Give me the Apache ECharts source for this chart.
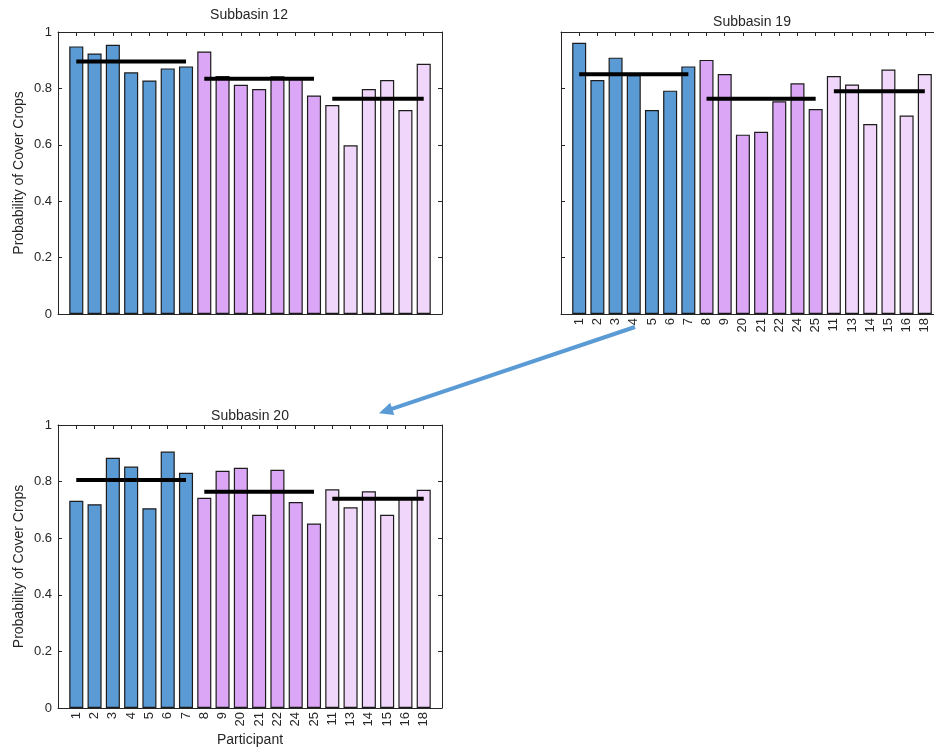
<!DOCTYPE html>
<html><head><meta charset="utf-8">
<script src="https://cdn.jsdelivr.net/npm/echarts@6/dist/echarts.min.js"></script>
<style>html,body{margin:0;padding:0;background:#fff}#c{width:934px;height:750px}</style>
</head><body><div id="c"></div>
<script>
// ---- data ----
const participants = ['1','2','3','4','5','6','7','8','9','20','21','22','24','25','11','13','14','15','16','18'];
const groupOf =      ['A','A','A','A','A','A','A','B','B','B','B','B','B','B','C','C','C','C','C','C'];
const groupNames = ['A','B','C'];
const sub12 = [0.949,0.924,0.955,0.857,0.828,0.871,0.878, 0.931,0.844,0.813,0.798,0.843,0.835,0.775, 0.741,0.598,0.798,0.830,0.723,0.887];
const sub19 = [0.962,0.830,0.909,0.847,0.723,0.792,0.878, 0.901,0.851,0.636,0.646,0.754,0.818,0.727, 0.844,0.814,0.674,0.867,0.704,0.851];
const sub20 = [0.732,0.720,0.884,0.853,0.706,0.906,0.831, 0.743,0.838,0.849,0.683,0.842,0.728,0.652, 0.773,0.709,0.766,0.683,0.739,0.771];
const mean12 = [0.895, 0.834, 0.763];
const mean19 = [0.850, 0.763, 0.790];
const mean20 = [0.806, 0.764, 0.739];
const panelTitles = ['Subbasin 12', 'Subbasin 19', 'Subbasin 20'];
const yTickValues = [0, 0.2, 0.4, 0.6, 0.8, 1];

// ---- styles ----
const FONT = '"Liberation Sans", Arial, Helvetica, sans-serif';
const TXT = '#262626';
const groupColors = { A: '#5b9bd5', B: '#dba6f5', C: '#f0d6fa' };
const panels = [
  { vals: sub12, means: mean12, grid: { left: 58, top: 32, width: 384, height: 282 }, xLabels: false, yLabels: true, xName: '' },
  { vals: sub19, means: mean19, grid: { left: 561, top: 32, width: 382, height: 282 }, xLabels: true, yLabels: false, xName: '' },
  { vals: sub20, means: mean20, grid: { left: 58, top: 425, width: 384, height: 283 }, xLabels: true, yLabels: true, xName: 'Participant' }
];
const cats = [''].concat(participants, ['']);

const grid = [], xAxis = [], yAxis = [], series = [], graphic = [];
panels.forEach((p, i) => {
  grid.push(Object.assign({ containLabel: false, outerBoundsMode: 'none' }, p.grid));
  const lineStyle = { color: TXT, width: 1 };
  xAxis.push({
    type: 'category', gridIndex: i, data: cats, boundaryGap: false, position: 'bottom',
    axisLine: { show: true, onZero: false, lineStyle },
    axisTick: { show: true, inside: true, length: 4, interval: 0, lineStyle },
    axisLabel: { show: p.xLabels, rotate: 90, interval: 0, margin: 4, fontSize: 13, color: TXT, fontFamily: FONT },
    splitLine: { show: false },
    name: p.xName, nameLocation: 'middle', nameGap: 25,
    nameTextStyle: { fontSize: 14, color: TXT, fontFamily: FONT }
  });
  xAxis.push({
    type: 'category', gridIndex: i, data: cats, boundaryGap: false, position: 'top',
    axisLine: { show: true, onZero: false, lineStyle },
    axisTick: { show: true, inside: true, length: 4, interval: 0, lineStyle },
    axisLabel: { show: false }, splitLine: { show: false }
  });
  yAxis.push({
    type: 'value', gridIndex: i, min: 0, max: 1, interval: 0.2, position: 'left',
    axisLine: { show: true, onZero: false, lineStyle },
    axisTick: { show: true, inside: true, length: 4, lineStyle },
    axisLabel: { show: p.yLabels, fontSize: 13, color: TXT, fontFamily: FONT, margin: 6,
      formatter: v => (yTickValues.includes(+v.toFixed(1)) ? String(+v.toFixed(1)) : '') },
    splitLine: { show: false },
    name: p.yLabels ? 'Probability of Cover Crops' : '', nameLocation: 'middle', nameGap: 32,
    nameTextStyle: { fontSize: 14, color: TXT, fontFamily: FONT }
  });
  yAxis.push({
    type: 'value', gridIndex: i, min: 0, max: 1, interval: 0.2, position: 'right',
    axisLine: { show: true, onZero: false, lineStyle },
    axisTick: { show: true, inside: true, length: 4, lineStyle },
    axisLabel: { show: false }, splitLine: { show: false }
  });
  // bars
  const barData = ['-'].concat(p.vals.map((v, k) => ({
    value: v,
    itemStyle: { color: groupColors[groupOf[k]], borderColor: '#1c1c1c', borderWidth: 1.2 }
  })), ['-']);
  series.push({
    type: 'bar', xAxisIndex: 2 * i, yAxisIndex: 2 * i, data: barData, barWidth: '77%',
    animation: false, silent: true, z: 2
  });
  // mean lines
  groupNames.forEach((g, gi) => {
    const d = cats.map((c, idx) => (idx >= 1 && idx <= participants.length && groupOf[idx - 1] === g) ? p.means[gi] : '-');
    series.push({
      type: 'line', xAxisIndex: 2 * i, yAxisIndex: 2 * i, data: d, showSymbol: false, symbol: 'none',
      lineStyle: { color: '#000', width: 4, cap: 'butt' }, animation: false, silent: true, z: 5
    });
  });
});

// titles
const titlePos = [[249, 15], [752, 22], [250, 416]];
panelTitles.forEach((t, i) => {
  graphic.push({ type: 'text', x: titlePos[i][0], y: titlePos[i][1], silent: true,
    style: { text: t, fill: TXT, font: '14px ' + FONT, textAlign: 'center', textVerticalAlign: 'middle' } });
});

// arrow from Subbasin 19 to Subbasin 20
const tail = [635, 327], tip = [379, 413.3];
const dx = tip[0] - tail[0], dy = tip[1] - tail[1], L = Math.hypot(dx, dy);
const ux = dx / L, uy = dy / L, headLen = 14, headHalf = 6.5;
const bx = tip[0] - ux * headLen, by = tip[1] - uy * headLen;
graphic.push({ type: 'line', silent: true, shape: { x1: tail[0], y1: tail[1], x2: bx + ux * 2, y2: by + uy * 2 },
  style: { stroke: '#5b9bd5', lineWidth: 4 } });
graphic.push({ type: 'polygon', silent: true,
  shape: { points: [tip, [bx - uy * headHalf, by + ux * headHalf], [bx + uy * headHalf, by - ux * headHalf]] },
  style: { fill: '#5b9bd5' } });

const chart = echarts.init(document.getElementById('c'), null, { renderer: 'canvas' });
chart.setOption({
  animation: false, backgroundColor: '#fff',
  textStyle: { fontFamily: FONT },
  grid, xAxis, yAxis, series, graphic
});
</script></body></html>
